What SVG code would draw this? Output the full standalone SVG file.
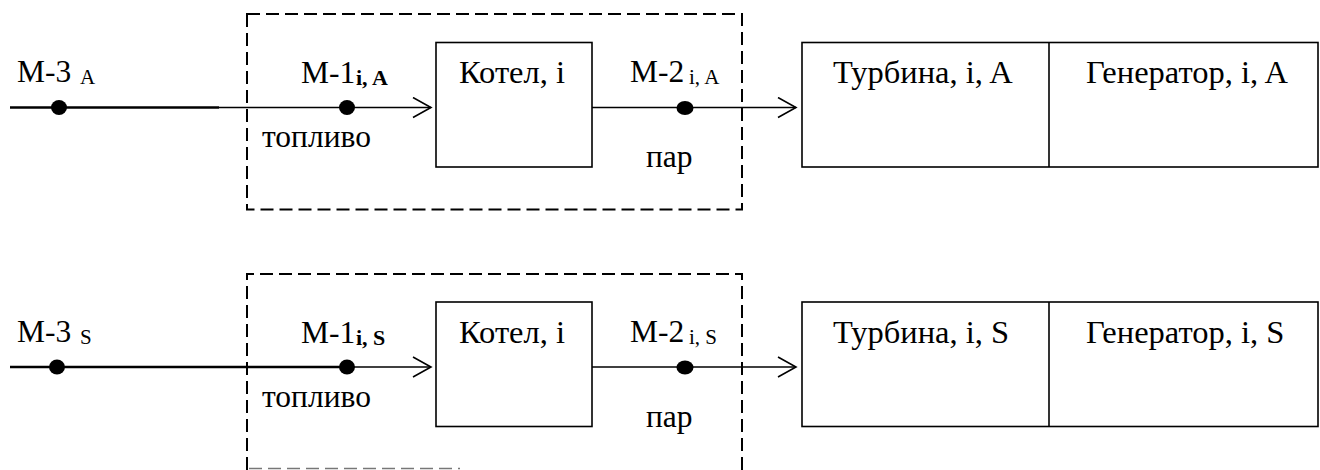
<svg xmlns="http://www.w3.org/2000/svg" width="1320" height="470" viewBox="0 0 1320 470">
  <style>
    .lbl { font-size: 31.5px; }
    .title { font-size: 32.5px; }
    .sub { font-size: 21px; }
    .sub-b { font-size: 22px; font-weight: bold; }
    .box { fill: #fff; stroke: #000; stroke-width: 1.6; }
    .frame { fill: none; stroke: #000; stroke-width: 2; stroke-dasharray: 13 6; }
    .flow { fill: none; stroke: #000; stroke-width: 1.6; }
    .flow-bold { fill: none; stroke: #000; stroke-width: 2.6; }
    .dot { fill: #000; }
  </style>
  <defs>
    <marker id="chev" markerUnits="userSpaceOnUse" markerWidth="22" markerHeight="24" refX="19" refY="11" orient="auto">
      <path d="M1,1 L19,11 L1,21" fill="none" stroke="#000" stroke-width="1.6"/>
    </marker>
  </defs>

  <g font-family="'Liberation Serif', serif" fill="#000">
  <!-- ===== Scenario A ===== -->
  <g id="panel-a">
    <g id="frame-a">
      <rect class="frame" x="247" y="14" width="495" height="195.5"/>
    </g>
    <g id="connectors-a">
      <line class="flow-bold" x1="10" y1="107.5" x2="219" y2="107.5"/>
      <line class="flow" x1="219" y1="107.5" x2="431" y2="107.5" marker-end="url(#chev)"/>
      <line class="flow" x1="592" y1="107.5" x2="796" y2="107.5" marker-end="url(#chev)"/>
    </g>
    <g id="m3-a">
      <ellipse class="dot" cx="59" cy="107.5" rx="8" ry="7.5"/>
      <text class="lbl" x="17" y="82">М-3<tspan class="sub" x="80" y="84">A</tspan></text>
    </g>
    <g id="m1-a">
      <ellipse class="dot" cx="347" cy="107.5" rx="8" ry="7.5"/>
      <text class="lbl" x="301" y="83">М-1<tspan class="sub-b" x="356" y="85">i, A</tspan></text>
      <text class="lbl" x="262" y="147">топливо</text>
    </g>
    <g id="boiler-a">
      <rect class="box" x="436" y="42.5" width="156" height="124.5"/>
      <text class="title" x="459" y="83">Котел, i</text>
    </g>
    <g id="m2-a">
      <ellipse class="dot" cx="685" cy="108" rx="8.5" ry="7"/>
      <text class="lbl" x="630" y="82">М-2<tspan class="sub" x="689" y="84">i, A</tspan></text>
      <text class="lbl" x="646" y="167">пар</text>
    </g>
    <g id="turbine-generator-a">
      <rect class="box" x="802" y="42.5" width="516" height="124.5"/>
      <line class="flow" x1="1049" y1="42.5" x2="1049" y2="167"/>
      <text class="title" x="833" y="83">Турбина, i, A</text>
      <text class="title" x="1086" y="83">Генератор, i, A</text>
    </g>
  </g>

  <!-- ===== Scenario S ===== -->
  <g id="panel-s">
    <g id="frame-s">
      <path class="frame" d="M247,470 V274 H742 V470"/>
      <line x1="249" y1="468.5" x2="460" y2="468.5" stroke="#777" stroke-width="1.6" stroke-dasharray="13 6"/>
    </g>
    <g id="connectors-s">
      <line class="flow-bold" x1="10" y1="367" x2="347" y2="367"/>
      <line class="flow" x1="347" y1="367" x2="431" y2="367" marker-end="url(#chev)"/>
      <line class="flow" x1="592" y1="367" x2="796" y2="367" marker-end="url(#chev)"/>
    </g>
    <g id="m3-s">
      <ellipse class="dot" cx="57" cy="367" rx="8" ry="7.5"/>
      <text class="lbl" x="17" y="341.5">М-3<tspan class="sub" x="80" y="343.5">S</tspan></text>
    </g>
    <g id="m1-s">
      <ellipse class="dot" cx="347" cy="367" rx="8" ry="7.5"/>
      <text class="lbl" x="301" y="342.5">М-1<tspan class="sub-b" x="356" y="344.5">i, S</tspan></text>
      <text class="lbl" x="262" y="406.5">топливо</text>
    </g>
    <g id="boiler-s">
      <rect class="box" x="436" y="302" width="156" height="124.5"/>
      <text class="title" x="459" y="342.5">Котел, i</text>
    </g>
    <g id="m2-s">
      <ellipse class="dot" cx="685" cy="367.5" rx="8.5" ry="7"/>
      <text class="lbl" x="630" y="341.5">М-2<tspan class="sub" x="689" y="343.5">i, S</tspan></text>
      <text class="lbl" x="646" y="426.5">пар</text>
    </g>
    <g id="turbine-generator-s">
      <rect class="box" x="802" y="302" width="516" height="124.5"/>
      <line class="flow" x1="1049" y1="302" x2="1049" y2="426.5"/>
      <text class="title" x="833" y="342.5">Турбина, i, S</text>
      <text class="title" x="1086" y="342.5">Генератор, i, S</text>
    </g>
  </g>
  </g>
</svg>
